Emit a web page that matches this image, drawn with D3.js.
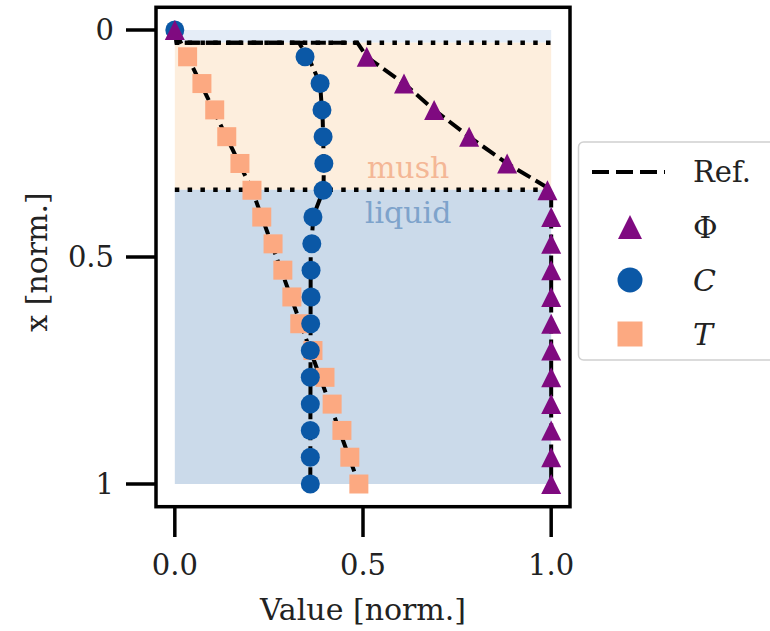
<!DOCTYPE html>
<html>
<head>
<meta charset="utf-8">
<script src="https://cdn.jsdelivr.net/npm/d3@7"></script>
<style>
  html, body { margin: 0; padding: 0; background: #fff; }
  svg { display: block; }
</style>
</head>
<body>
<div id="chart"></div>
<script>
// depth of each sample point (normalised x)
const depths = [0, 0.059, 0.118, 0.176, 0.235, 0.294, 0.353, 0.412, 0.471, 0.529, 0.588, 0.647, 0.706, 0.765, 0.824, 0.882, 0.941, 1];
const phiValues = [0, 0.51, 0.609, 0.689, 0.782, 0.883, 0.99, 1, 1, 1, 1, 1, 1, 1, 1, 1, 1, 1];
const cValues = [0, 0.346, 0.386, 0.391, 0.394, 0.396, 0.394, 0.367, 0.364, 0.362, 0.362, 0.361, 0.36, 0.36, 0.36, 0.36, 0.36, 0.36];
const tValues = [null, 0.034, 0.072, 0.106, 0.138, 0.173, 0.205, 0.231, 0.261, 0.287, 0.311, 0.332, 0.367, 0.399, 0.418, 0.444, 0.465, 0.489];

// reference curves as [value, depth]
const refPhi = [[0, 0], [0.005, 0.028], [0.485, 0.028], [0.51, 0.059], [0.609, 0.118], [0.689, 0.176], [0.782, 0.235], [0.883, 0.294], [1, 0.352], [1, 1]];
const refC = [[0, 0], [0.005, 0.028], [0.33, 0.028], [0.36, 0.07], [0.386, 0.118], [0.393, 0.2], [0.396, 0.3], [0.395, 0.352], [0.368, 0.41], [0.361, 0.5], [0.36, 1]];
const refT = [[0, 0], [0.205, 0.352], [0.489, 1]];

// regions: [label, top depth, bottom depth]
const regions = [['solid', 0, 0.028], ['mush', 0.028, 0.352], ['liquid', 0.352, 1]];
const interfaces = [0.028, 0.352];

const xTicks = [0, 0.5, 1];
const xTickLabels = ['0.0', '0.5', '1.0'];
const yTicks = [0, 0.5, 1];
const yTickLabels = ['0', '0.5', '1'];

const legendLabels = ['Ref.', 'Φ', 'C', 'T'];

const COLORS = { phi: '#7f0a80', c: '#0b58a6', t: '#fca981' };
const REGION_FILL = { solid: '#e5edf7', mush: '#fdeedd', liquid: '#cbdaea' };
const FONT = 'DejaVu Serif, serif';

const width = 770, height = 631;
const x = d3.scaleLinear().domain([-0.05, 1.05]).range([156, 570]);
const y = d3.scaleLinear().domain([-0.05, 1.05]).range([7.3, 506.7]);

const svg = d3.select('#chart').append('svg').attr('width', width).attr('height', height);
svg.append('rect').attr('width', width).attr('height', height).attr('fill', '#fff');

// background bands
regions.forEach(([name, top, bottom]) => {
  svg.append('rect').attr('x', x(0)).attr('y', y(top)).attr('width', x(1) - x(0)).attr('height', y(bottom) - y(top)).attr('fill', REGION_FILL[name]);
});

svg.append('text').attr('x', x(0.62)).attr('y', 178).attr('text-anchor', 'middle').attr('font-family', FONT).attr('font-size', 30).attr('fill', '#f4b796').text('mush');
svg.append('text').attr('x', x(0.62)).attr('y', 223).attr('text-anchor', 'middle').attr('font-family', FONT).attr('font-size', 30).attr('fill', '#7ea3cb').text('liquid');

interfaces.forEach(d => {
  svg.append('line').attr('x1', x(0)).attr('x2', x(1)).attr('y1', y(d)).attr('y2', y(d)).attr('stroke', '#000').attr('stroke-width', 4.5).attr('stroke-dasharray', '4.5,8.3');
});

// reference lines
const refLine = d3.line().x(d => x(d[0])).y(d => y(d[1]));
[refT, refC, refPhi].forEach(ref => {
  svg.append('path').attr('d', refLine(ref)).attr('fill', 'none').attr('stroke', '#000').attr('stroke-width', 4).attr('stroke-dasharray', '15,6');
});

const triangle = s => `M0,${-s / 2}L${s / 2},${s / 2}L${-s / 2},${s / 2}Z`;

function drawMarker(g, kind, cx, cy, size) {
  if (kind === 't') {
    g.append('rect').attr('x', cx - size / 2).attr('y', cy - size / 2).attr('width', size).attr('height', size).attr('fill', COLORS.t);
  } else if (kind === 'c') {
    g.append('circle').attr('cx', cx).attr('cy', cy).attr('r', size / 2).attr('fill', COLORS.c);
  } else {
    g.append('path').attr('d', triangle(size)).attr('transform', `translate(${cx},${cy})`).attr('fill', COLORS.phi);
  }
}

const markers = svg.append('g');
[['t', tValues, 19], ['c', cValues, 19], ['phi', phiValues, 20]].forEach(([kind, values, size]) => {
  values.forEach((v, i) => {
    if (v == null) return;
    drawMarker(markers, kind, x(v), y(depths[i]), size);
  });
});

// frame + ticks
svg.append('rect').attr('x', 156).attr('y', 7.3).attr('width', 570 - 156).attr('height', 506.7 - 7.3).attr('fill', 'none').attr('stroke', '#000').attr('stroke-width', 3.5);

yTicks.forEach((t, i) => {
  svg.append('line').attr('x1', 156).attr('x2', 126).attr('y1', y(t)).attr('y2', y(t)).attr('stroke', '#000').attr('stroke-width', 3.5);
  svg.append('text').attr('x', 114).attr('y', y(t)).attr('dy', '0.36em').attr('text-anchor', 'end').attr('font-family', FONT).attr('font-size', 29).attr('fill', '#222').text(yTickLabels[i]);
});
xTicks.forEach((t, i) => {
  svg.append('line').attr('x1', x(t)).attr('x2', x(t)).attr('y1', 506.7).attr('y2', 537).attr('stroke', '#000').attr('stroke-width', 3.5);
  svg.append('text').attr('x', x(t)).attr('y', 575).attr('text-anchor', 'middle').attr('font-family', FONT).attr('font-size', 29).attr('fill', '#222').text(xTickLabels[i]);
});

svg.append('text').attr('x', 363).attr('y', 620).attr('text-anchor', 'middle').attr('font-family', FONT).attr('font-size', 30).attr('fill', '#222').text('Value [norm.]');
svg.append('text').attr('transform', 'translate(47,262) rotate(-90)').attr('text-anchor', 'middle').attr('font-family', FONT).attr('font-size', 30).attr('fill', '#222').text('x [norm.]');

// legend
const legend = svg.append('g');
legend.append('rect').attr('x', 578.5).attr('y', 142).attr('width', 200).attr('height', 218).attr('rx', 5).attr('fill', '#fff').attr('stroke', '#d0d0d0').attr('stroke-width', 1.5);
const rowY = [172, 227, 280, 334];
legend.append('line').attr('x1', 592).attr('x2', 665).attr('y1', rowY[0]).attr('y2', rowY[0]).attr('stroke', '#000').attr('stroke-width', 4).attr('stroke-dasharray', '17,7');
drawMarker(legend, 'phi', 630, rowY[1], 24);
drawMarker(legend, 'c', 630, rowY[2], 25);
drawMarker(legend, 't', 630, rowY[3], 25);
legendLabels.forEach((label, i) => {
  legend.append('text').attr('x', 693).attr('y', rowY[i]).attr('dy', '0.36em').attr('font-family', FONT).attr('font-size', i === 0 ? 29 : 30)
    .attr('font-style', i >= 2 ? 'italic' : null).attr('fill', '#222').text(label);
});
</script>
</body>
</html>
